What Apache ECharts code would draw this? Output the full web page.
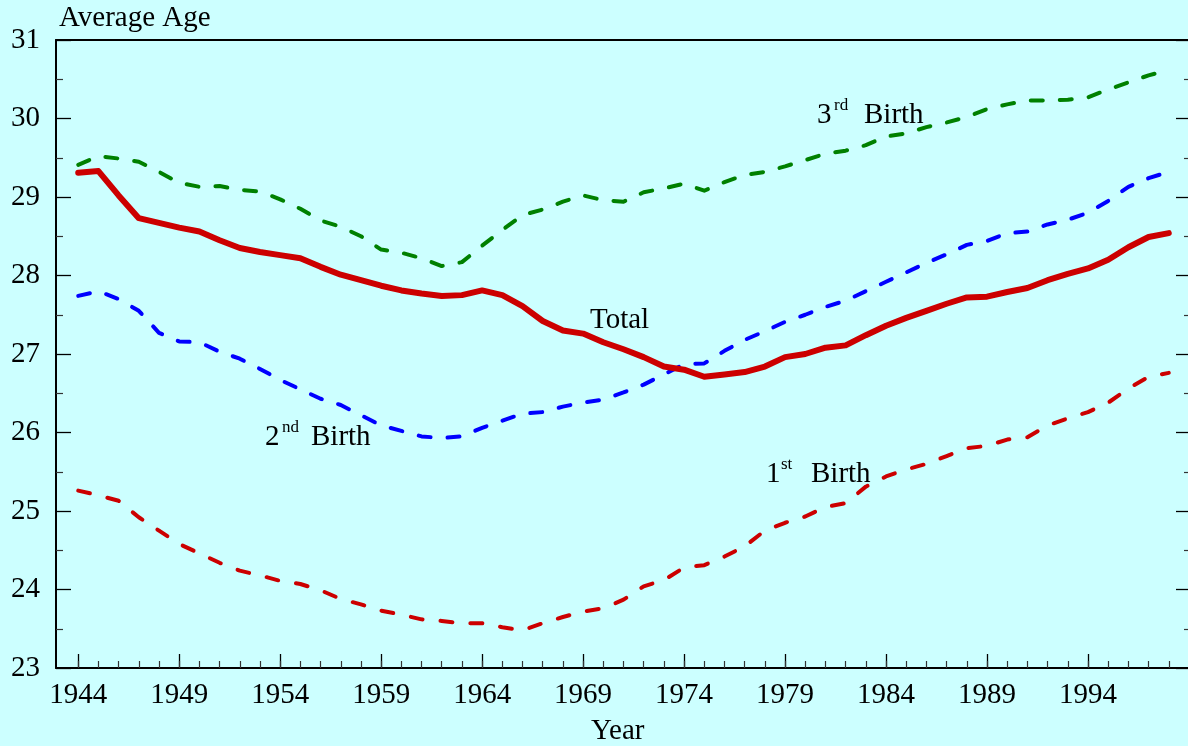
<!DOCTYPE html>
<html>
<head>
<meta charset="utf-8">
<script src="https://cdn.jsdelivr.net/npm/echarts@6/dist/echarts.min.js"></script>
<style>
html,body{margin:0;padding:0;background:#ccffff;}
#chart{width:1188px;height:746px;}
</style>
</head>
<body>
<div id="chart"></div>
<script>
const years = [];
for (let y = 1944; y <= 1998; y++) years.push(y);

const majorTickYears = [1944, 1949, 1954, 1959, 1964, 1969, 1974, 1979, 1984, 1989, 1994];

const total = [29.31,29.33,29.02,28.73,28.67,28.61,28.56,28.45,28.35,28.30,
  28.26,28.22,28.11,28.01,27.94,27.87,27.81,27.77,27.74,27.75,
  27.81,27.75,27.61,27.42,27.30,27.26,27.15,27.06,26.96,26.84,
  26.80,26.71,26.74,26.77,26.84,26.96,27.00,27.08,27.11,27.24,
  27.36,27.46,27.55,27.64,27.72,27.73,27.79,27.84,27.94,28.02,
  28.09,28.20,28.36,28.49,28.54];

const third = [29.41,29.52,29.49,29.45,29.32,29.18,29.13,29.14,29.09,29.07,
  28.97,28.85,28.70,28.62,28.50,28.33,28.29,28.22,28.12,28.17,
  28.38,28.58,28.77,28.84,28.94,29.02,28.96,28.94,29.06,29.11,
  29.17,29.08,29.19,29.28,29.32,29.39,29.47,29.55,29.59,29.66,
  29.77,29.81,29.89,29.95,30.02,30.12,30.18,30.23,30.23,30.24,
  30.27,30.37,30.46,30.55,30.62];

const second = [27.74,27.80,27.70,27.55,27.27,27.16,27.15,27.03,26.94,26.81,
  26.67,26.55,26.43,26.35,26.22,26.09,26.02,25.95,25.93,25.95,
  26.06,26.15,26.24,26.26,26.33,26.38,26.42,26.51,26.61,26.74,
  26.87,26.88,27.04,27.18,27.29,27.41,27.50,27.60,27.68,27.80,
  27.92,28.04,28.16,28.27,28.39,28.44,28.54,28.56,28.65,28.71,
  28.80,28.95,29.13,29.24,29.32];

const first = [25.26,25.20,25.13,24.92,24.75,24.58,24.46,24.34,24.24,24.18,
  24.11,24.07,23.99,23.88,23.81,23.73,23.68,23.62,23.60,23.57,
  23.57,23.52,23.48,23.57,23.65,23.72,23.76,23.87,24.04,24.12,
  24.28,24.31,24.42,24.55,24.75,24.85,24.93,25.05,25.10,25.31,
  25.44,25.53,25.60,25.70,25.80,25.83,25.91,25.94,26.09,26.18,
  26.26,26.38,26.56,26.71,26.76];

const pairs = arr => years.map((y, i) => [y, arr[i]]);

const FONT = "'Liberation Serif','DejaVu Serif',serif";
const XMIN = 1942.9, XMAX = 1999.1;
const FS = 29, SUP = 17;

const chart = echarts.init(document.getElementById('chart'), null, {renderer: 'canvas'});

const txt = (text, x, y, size) => ({
  type: 'text', x: x, y: y,
  style: {text: text, fill: '#000', font: size + 'px ' + FONT, textAlign: 'left', textVerticalAlign: 'middle'}
});

const dashLine = (color, dash) => ({color: color, width: 4, type: dash, cap: 'round', join: 'round'});

chart.setOption({
  backgroundColor: '#ccffff',
  animation: false,
  grid: {left: 56, top: 40, width: 1135, height: 628, containLabel: false, outerBoundsMode: 'none'},
  xAxis: [
    {
      type: 'value', min: XMIN, max: XMAX, position: 'bottom',
      axisLine: {show: true, onZero: false, lineStyle: {color: '#000', width: 2}},
      axisTick: {show: true, inside: true, length: 14, customValues: majorTickYears, lineStyle: {color: '#000', width: 1.3}},
      axisLabel: {show: true, customValues: majorTickYears, margin: 13, color: '#000', fontSize: FS, fontFamily: FONT,
        formatter: v => String(Math.round(v))},
      splitLine: {show: false}
    },
    {
      type: 'value', min: XMIN, max: XMAX, position: 'bottom',
      axisLine: {show: false, onZero: false},
      axisTick: {show: true, inside: true, length: 7, customValues: years, lineStyle: {color: '#333', width: 1.2}},
      axisLabel: {show: false},
      splitLine: {show: false}
    },
    {
      type: 'value', min: XMIN, max: XMAX, position: 'top',
      axisLine: {show: true, onZero: false, lineStyle: {color: '#000', width: 2}},
      axisTick: {show: false}, axisLabel: {show: false}, splitLine: {show: false}
    }
  ],
  yAxis: [
    {
      type: 'value', min: 23, max: 31, interval: 1, position: 'left',
      axisLine: {show: true, onZero: false, lineStyle: {color: '#000', width: 2}},
      axisTick: {show: true, inside: true, length: 15, lineStyle: {color: '#000', width: 1.3}},
      minorTick: {show: true, splitNumber: 2, length: 7, lineStyle: {color: '#333', width: 1.2}},
      axisLabel: {show: true, margin: 16, color: '#000', fontSize: FS, fontFamily: FONT},
      splitLine: {show: false}, minorSplitLine: {show: false}
    },
    {
      type: 'value', min: 23, max: 31, interval: 1, position: 'right',
      axisLine: {show: true, onZero: false, lineStyle: {color: '#000', width: 2}},
      axisTick: {show: true, inside: true, length: 15, lineStyle: {color: '#000', width: 1.3}},
      minorTick: {show: true, splitNumber: 2, length: 7, lineStyle: {color: '#333', width: 1.2}},
      axisLabel: {show: false},
      splitLine: {show: false}, minorSplitLine: {show: false}
    }
  ],
  series: [
    {name: '3rd Birth', type: 'line', data: pairs(third), showSymbol: false, symbol: 'none',
      lineStyle: dashLine('#008000', [12, 17]), z: 3},
    {name: '2nd Birth', type: 'line', data: pairs(second), showSymbol: false, symbol: 'none',
      lineStyle: dashLine('#0000ff', [12, 17]), z: 3},
    {name: '1st Birth', type: 'line', data: pairs(first), showSymbol: false, symbol: 'none',
      lineStyle: dashLine('#cc0000', [12, 18]), z: 3},
    {name: 'Total', type: 'line', data: pairs(total), showSymbol: false, symbol: 'none',
      lineStyle: {color: '#cc0000', width: 6, cap: 'round', join: 'round'}, z: 4}
  ],
  graphic: [
    txt('Average Age', 59, 18, FS),
    txt('Year', 591, 731, FS),
    txt('Total', 590, 320, FS),
    txt('3', 817, 115, FS), txt('rd', 834, 106, SUP), txt('Birth', 864, 115, FS),
    txt('2', 265, 437, FS), txt('nd', 282, 428, SUP), txt('Birth', 311, 437, FS),
    txt('1', 766, 474, FS), txt('st', 781, 465, SUP), txt('Birth', 811, 474, FS)
  ]
});
</script>
</body>
</html>
